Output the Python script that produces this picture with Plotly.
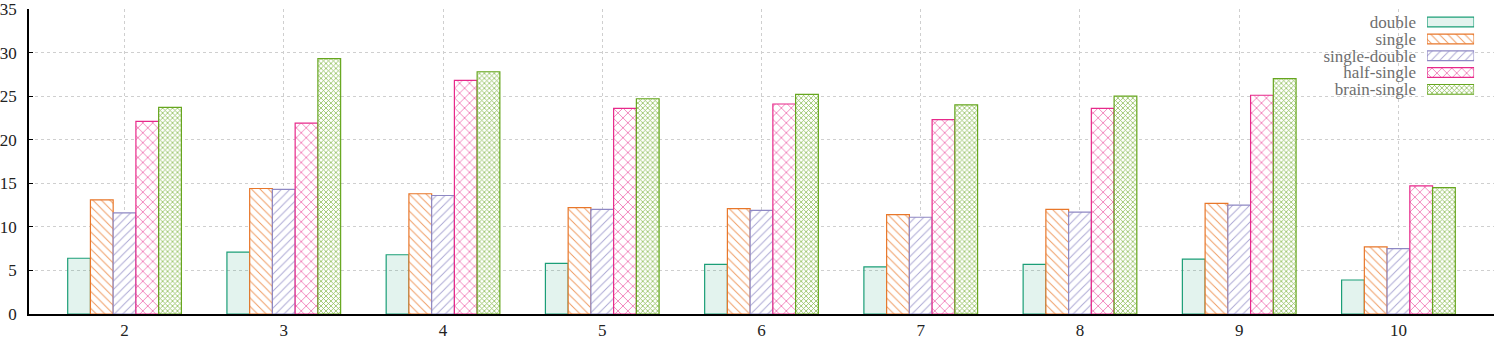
import plotly.graph_objects as go

categories = ["2", "3", "4", "5", "6", "7", "8", "9", "10"]
x_vals = [2, 3, 4, 5, 6, 7, 8, 9, 10]
double = [6.4, 7.1, 6.8, 5.8, 5.7, 5.4, 5.7, 6.3, 3.9]
single = [13.1, 14.4, 13.8, 12.2, 12.1, 11.4, 12.0, 12.7, 7.7]
single_double = [11.6, 14.3, 13.6, 12.0, 11.9, 11.1, 11.7, 12.5, 7.5]
half_single = [22.1, 21.9, 26.8, 23.6, 24.1, 22.3, 23.6, 25.1, 14.7]
brain_single = [23.7, 29.3, 27.8, 24.7, 25.2, 24.0, 25.0, 27.0, 14.5]

series_names = ["double", "single", "single-double", "half-single", "brain-single"]
series_values = [double, single, single_double, half_single, brain_single]
colors = ["#1b9e77", "#e8772a", "#8e88c4", "#e7298a", "#66a61e"]
shapes = ["", "\\", "/", "x", "x"]
sizes = [8, 6, 6, 7, 3.5]
solids = [0.2, 0.16, 0.16, 0.2, 0.4]
fill_double = "rgba(27,158,119,0.12)"


def bar_marker(i):
    if shapes[i] == "":
        return dict(color=fill_double, line=dict(color=colors[i], width=1.2))
    return dict(color="white", line=dict(color=colors[i], width=1.2),
                pattern=dict(shape=shapes[i], fgcolor=colors[i], bgcolor="white",
                             size=sizes[i], solidity=solids[i], fgopacity=0.75,
                             fillmode="overlay"))


fig = go.Figure()
for i, name in enumerate(series_names):
    fig.add_trace(go.Bar(name=name, x=x_vals, y=series_values[i], marker=bar_marker(i),
                         showlegend=False))

# legend drawn as a small horizontal bar chart on its own axes (swatches right of text)
for i, name in enumerate(series_names):
    fig.add_trace(go.Bar(
        x=[1], y=[name], orientation="h", xaxis="x2", yaxis="y2", showlegend=False,
        hoverinfo="skip", width=0.58, offset=-0.29, marker=bar_marker(i),
    ))

SERIF = "Liberation Serif, Times New Roman, DejaVu Serif, serif"
fig.update_layout(
    width=1494, height=340,
    barmode="group", bargap=0.286, bargroupgap=0,
    margin=dict(l=28, r=0, t=6, b=24),
    plot_bgcolor="white", paper_bgcolor="white",
    font=dict(family=SERIF, size=17, color="#222"),
    showlegend=False,
    xaxis=dict(range=[1.4, 10.6], tickvals=x_vals, ticktext=categories, showgrid=True,
               gridcolor="#cfcfcf", griddash="dot", showline=True, linecolor="black",
               linewidth=1.5, ticks="", zeroline=False),
    yaxis=dict(range=[0, 35], dtick=5, showgrid=True, gridcolor="#cfcfcf", griddash="dot",
               showline=True, linecolor="black", linewidth=1.5, ticks="inside", ticklen=4,
               tickcolor="black", ticklabelstandoff=7, ticklabeloverflow="allow",
               zeroline=False),
    xaxis2=dict(domain=[0.9543, 0.9864], anchor="y2", range=[0, 1], visible=False,
                fixedrange=True),
    yaxis2=dict(domain=[0.7089, 0.9847], anchor="x2", type="category",
                categoryorder="array", categoryarray=series_names,
                tickmode="array", tickvals=series_names, ticktext=series_names,
                range=[len(series_names) - 0.5, -0.5], showgrid=False, showline=False,
                zeroline=False, ticks="", ticklabelstandoff=10,
                tickfont=dict(family=SERIF, size=17, color="#6e6e6e"), fixedrange=True),
)
fig.write_html("out.html", config={"displayModeBar": False},
               post_script="document.body.style.margin='0';document.body.style.overflow='hidden';")
